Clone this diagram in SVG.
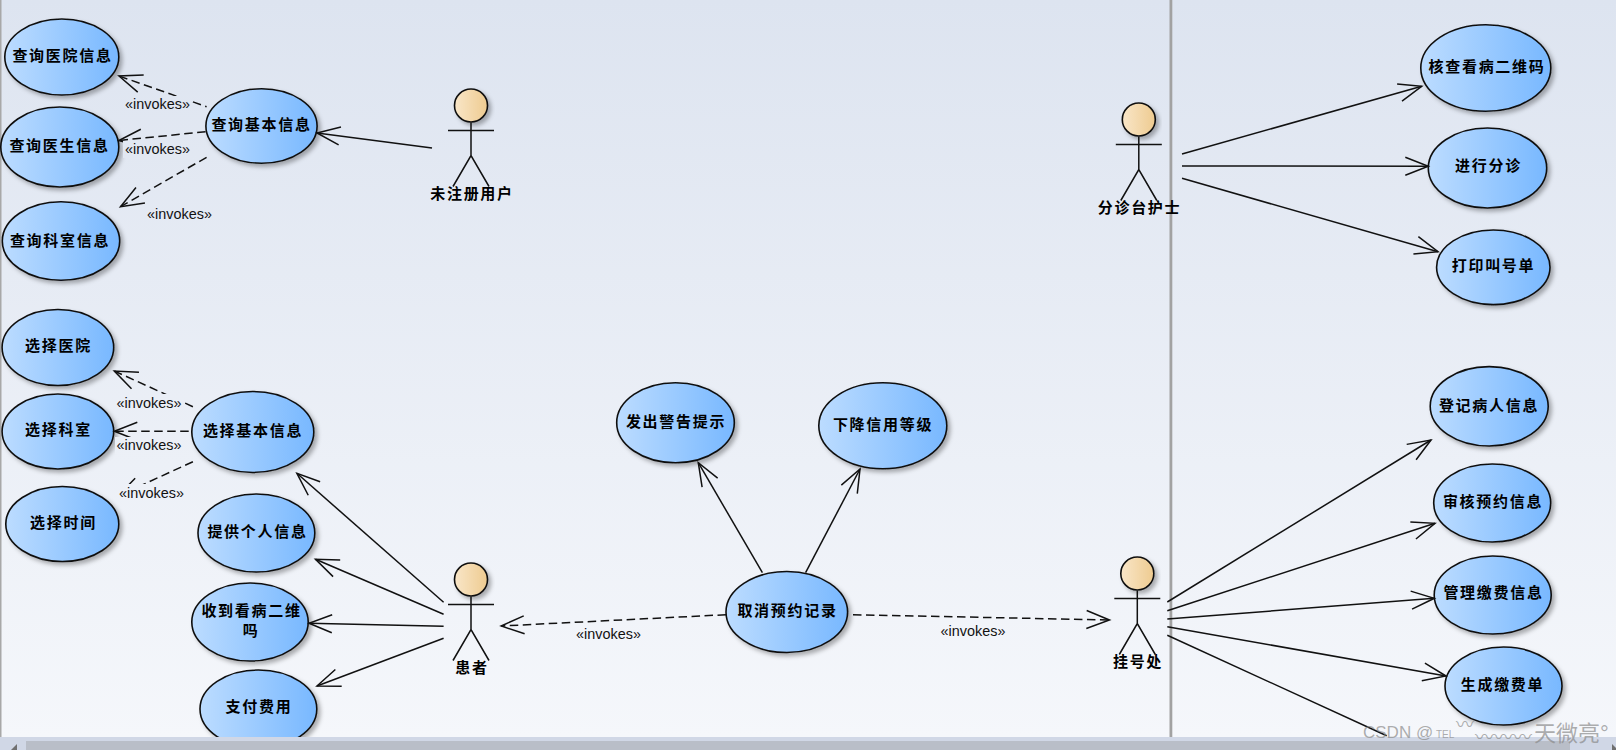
<svg xmlns="http://www.w3.org/2000/svg" width="1616" height="750" viewBox="0 0 1616 750">
<style>
.uc{fill:url(#ucg);stroke:#111;stroke-width:1.6;filter:url(#sh)}
.t{font-family:"Noto Sans CJK SC","Liberation Sans",sans-serif;font-weight:700;font-size:15px;letter-spacing:1.7px;fill:#000;text-anchor:middle;dominant-baseline:central}
.s{fill:none;stroke:#111;stroke-width:1.5}
.d{fill:none;stroke:#111;stroke-width:1.5;stroke-dasharray:8.5 4.5}
.a{marker-end:url(#arr)}
.lb{fill:url(#bg)}
.lt{font-family:"Liberation Sans",Arial,sans-serif;font-size:14.4px;fill:#111;text-anchor:middle;dominant-baseline:central}
.wm{font-family:"Liberation Sans","Noto Sans CJK SC",sans-serif;fill:#8a8a8a;fill-opacity:.7}
</style>
<defs>
<linearGradient id="bg" gradientUnits="userSpaceOnUse" x1="0" y1="0" x2="0" y2="737"><stop offset="0" stop-color="#dde4f0"/><stop offset="1" stop-color="#f5f7fb"/></linearGradient>
<linearGradient id="ucg"><stop offset="0" stop-color="#bcdcff"/><stop offset="1" stop-color="#78b8ff"/></linearGradient>
<linearGradient id="hd"><stop offset="0" stop-color="#f9e6c8"/><stop offset="1" stop-color="#eecb90"/></linearGradient>
<filter id="sh" x="-15%" y="-15%" width="135%" height="135%"><feDropShadow dx="3" dy="3" stdDeviation="2" flood-color="#000" flood-opacity=".3"/></filter>
<marker id="arr" markerUnits="userSpaceOnUse" markerWidth="28" markerHeight="26" refX="25" refY="13" orient="auto"><path d="M2,4 L25,13 L2,22" fill="none" stroke="#111" stroke-width="1.5"/></marker>
<g id="actor"><circle r="16.5" fill="url(#hd)" stroke="#111" stroke-width="1.6" filter="url(#sh)"/><path class="s" d="M-23,25 H23 M0,17 V50 M-18,81 L0,50 L18,81"/></g>
</defs>
<rect width="1616" height="737" fill="url(#bg)"/>
<rect x="0" y="0" width="1.5" height="737" fill="#a8a8a8"/>
<rect x="1169.5" y="0" width="2.8" height="737" fill="#a2a2a2"/>

<g id="n-hospinfo"><ellipse class="uc" cx="61.8" cy="57" rx="57" ry="38"/><text class="t" x="62.5" y="54">查询医院信息</text></g>
<g id="n-docinfo"><ellipse class="uc" cx="59.8" cy="147" rx="59" ry="40"/><text class="t" x="59.5" y="144.3">查询医生信息</text></g>
<g id="n-deptinfo"><ellipse class="uc" cx="61" cy="241" rx="58.7" ry="39.3"/><text class="t" x="60" y="239">查询科室信息</text></g>
<g id="n-baseinfo"><ellipse class="uc" cx="261.5" cy="126" rx="55.6" ry="37.3"/><text class="t" x="261.5" y="123.3">查询基本信息</text></g>
<g id="a-guest"><use href="#actor" x="471" y="105.5"/><text class="t" x="472" y="192">未注册用户</text></g>

<g id="n-selhosp"><ellipse class="uc" cx="57.9" cy="347.5" rx="55.8" ry="38"/><text class="t" x="58.5" y="344.3">选择医院</text></g>
<g id="n-seldept"><ellipse class="uc" cx="57.9" cy="431.5" rx="55.8" ry="37.5"/><text class="t" x="58.5" y="428.3">选择科室</text></g>
<g id="n-seltime"><ellipse class="uc" cx="62.3" cy="524" rx="56.5" ry="37.5"/><text class="t" x="63.5" y="521.3">选择时间</text></g>
<g id="n-selbase"><ellipse class="uc" cx="252.8" cy="432" rx="61" ry="40.5"/><text class="t" x="253" y="429">选择基本信息</text></g>
<g id="n-provide"><ellipse class="uc" cx="256.4" cy="533" rx="58.4" ry="39"/><text class="t" x="257.5" y="530">提供个人信息</text></g>
<g id="n-receive"><ellipse class="uc" cx="250" cy="622" rx="58.2" ry="39"/><text class="t" x="251.5" y="609">收到看病二维</text><text class="t" x="251" y="629">吗</text></g>
<g id="n-pay"><ellipse class="uc" cx="258.4" cy="709" rx="58.4" ry="39"/><text class="t" x="259" y="705">支付费用</text></g>
<g id="a-patient"><use href="#actor" x="471" y="579.5"/><text class="t" x="472" y="666">患者</text></g>

<g id="n-warn"><ellipse class="uc" cx="675.5" cy="422.7" rx="58.8" ry="40"/><text class="t" x="676" y="420.7">发出警告提示</text></g>
<g id="n-credit"><ellipse class="uc" cx="882.8" cy="425.7" rx="64" ry="43"/><text class="t" x="883" y="423">下降信用等级</text></g>
<g id="n-cancel"><ellipse class="uc" cx="786.8" cy="612" rx="60.8" ry="40.5"/><text class="t" x="787.5" y="609">取消预约记录</text></g>

<g id="a-nurse"><use href="#actor" x="1138.8" y="119.5"/><text class="t" x="1139.5" y="206.3">分诊台护士</text></g>
<g id="n-check"><ellipse class="uc" cx="1485.8" cy="68" rx="65" ry="43.3"/><text class="t" x="1487" y="65">核查看病二维码</text></g>
<g id="n-triage"><ellipse class="uc" cx="1487.5" cy="168" rx="59.2" ry="40"/><text class="t" x="1488.5" y="164.7">进行分诊</text></g>
<g id="n-print"><ellipse class="uc" cx="1493.3" cy="267.3" rx="56.7" ry="37.3"/><text class="t" x="1493.5" y="264">打印叫号单</text></g>

<g id="a-desk"><use href="#actor" x="1137.3" y="573.5"/><text class="t" x="1138" y="660">挂号处</text></g>
<g id="n-register"><ellipse class="uc" cx="1489.2" cy="406.3" rx="59" ry="39.7"/><text class="t" x="1489" y="404">登记病人信息</text></g>
<g id="n-review"><ellipse class="uc" cx="1492.2" cy="503" rx="58.5" ry="39"/><text class="t" x="1493" y="500">审核预约信息</text></g>
<g id="n-fee"><ellipse class="uc" cx="1492.7" cy="595" rx="58.5" ry="39"/><text class="t" x="1493.5" y="591.3">管理缴费信息</text></g>
<g id="n-bill"><ellipse class="uc" cx="1503.5" cy="686" rx="58.5" ry="39"/><text class="t" x="1502.5" y="683.3">生成缴费单</text></g>

<g id="connectors">
<path class="s a" d="M432,148 L317,133"/>
<path class="d a" stroke-dashoffset="7" d="M206.6,106.7 L119,76"/>
<path class="d a" d="M205.6,131.7 L118.8,140.5"/>
<path class="d a" d="M206.6,157.3 L120.5,206.7"/>
<path class="d a" d="M192.9,406.7 L114.3,371"/>
<path class="d a" d="M188.7,431.3 L114.3,431.3"/>
<path class="d a" d="M192.9,461.7 L118,496"/>
<path class="s a" d="M443.6,602.3 L296.9,473.3"/>
<path class="s a" d="M443.6,614.3 L315.5,559.3"/>
<path class="s a" d="M443.6,626.3 L309,623.3"/>
<path class="s a" d="M443.6,638.3 L317,686"/>
<path class="s a" d="M762.4,572.7 L698.3,462.7"/>
<path class="s a" d="M805.6,572.7 L860,469"/>
<path class="d a" d="M726,614.7 L501.2,626"/>
<path class="d a" d="M853,614.7 L1109.5,620"/>
<path class="s a" d="M1182,154 L1421.7,86.3"/>
<path class="s a" d="M1182,166 L1428.3,166.3"/>
<path class="s a" d="M1182,178.3 L1438,251.7"/>
<path class="s a" d="M1167.3,602 L1431,440"/>
<path class="s a" d="M1167.3,610.7 L1435,523.3"/>
<path class="s a" d="M1167.3,619 L1434.3,598.3"/>
<path class="s a" d="M1167.3,626.7 L1446,676"/>
<path class="s" d="M1167.3,635.3 L1386.7,735.7"/>
</g>
<g id="labels">
<rect class="lb" x="124" y="96" width="68" height="17"/><text class="lt" x="157.5" y="104">«invokes»</text>
<rect class="lb" x="123" y="141" width="70" height="17"/><text class="lt" x="157.5" y="149">«invokes»</text>
<rect class="lb" x="146" y="205" width="68" height="17"/><text class="lt" x="179.5" y="213.7">«invokes»</text>
<rect class="lb" x="116" y="394" width="69" height="17"/><text class="lt" x="149" y="403">«invokes»</text>
<rect class="lb" x="115" y="437" width="69" height="17"/><text class="lt" x="149" y="445">«invokes»</text>
<rect class="lb" x="115" y="484" width="71" height="18"/><text class="lt" x="151.5" y="493">«invokes»</text>
<rect class="lb" x="575" y="626" width="68" height="17"/><text class="lt" x="608.5" y="634">«invokes»</text>
<rect class="lb" x="939" y="623" width="68" height="17"/><text class="lt" x="973" y="631">«invokes»</text>
</g>
<g id="scrollbar">
<rect x="0" y="737" width="1616" height="13" fill="#d0d7e6"/>
<rect x="26" y="741" width="1544" height="9" fill="#b9bec8"/>
<path d="M11,750 L17,744 V750 Z" fill="#707070"/>
<path d="M1612,744 L1616,748 V750 H1612 Z" fill="#707070"/>
</g>
<g id="watermark">
<text class="wm" font-size="17" x="1363" y="738">CSDN @</text>
<text class="wm" font-size="10" x="1436" y="738">TEL</text>
<text class="wm" font-size="18" fill-opacity=".45" x="1456" y="731">〰</text>
<text class="wm" font-size="19" fill-opacity=".45" x="1475" y="744">〰〰〰</text>
<text class="wm" font-size="22" x="1534" y="741">天微亮°</text>
</g>
</svg>
